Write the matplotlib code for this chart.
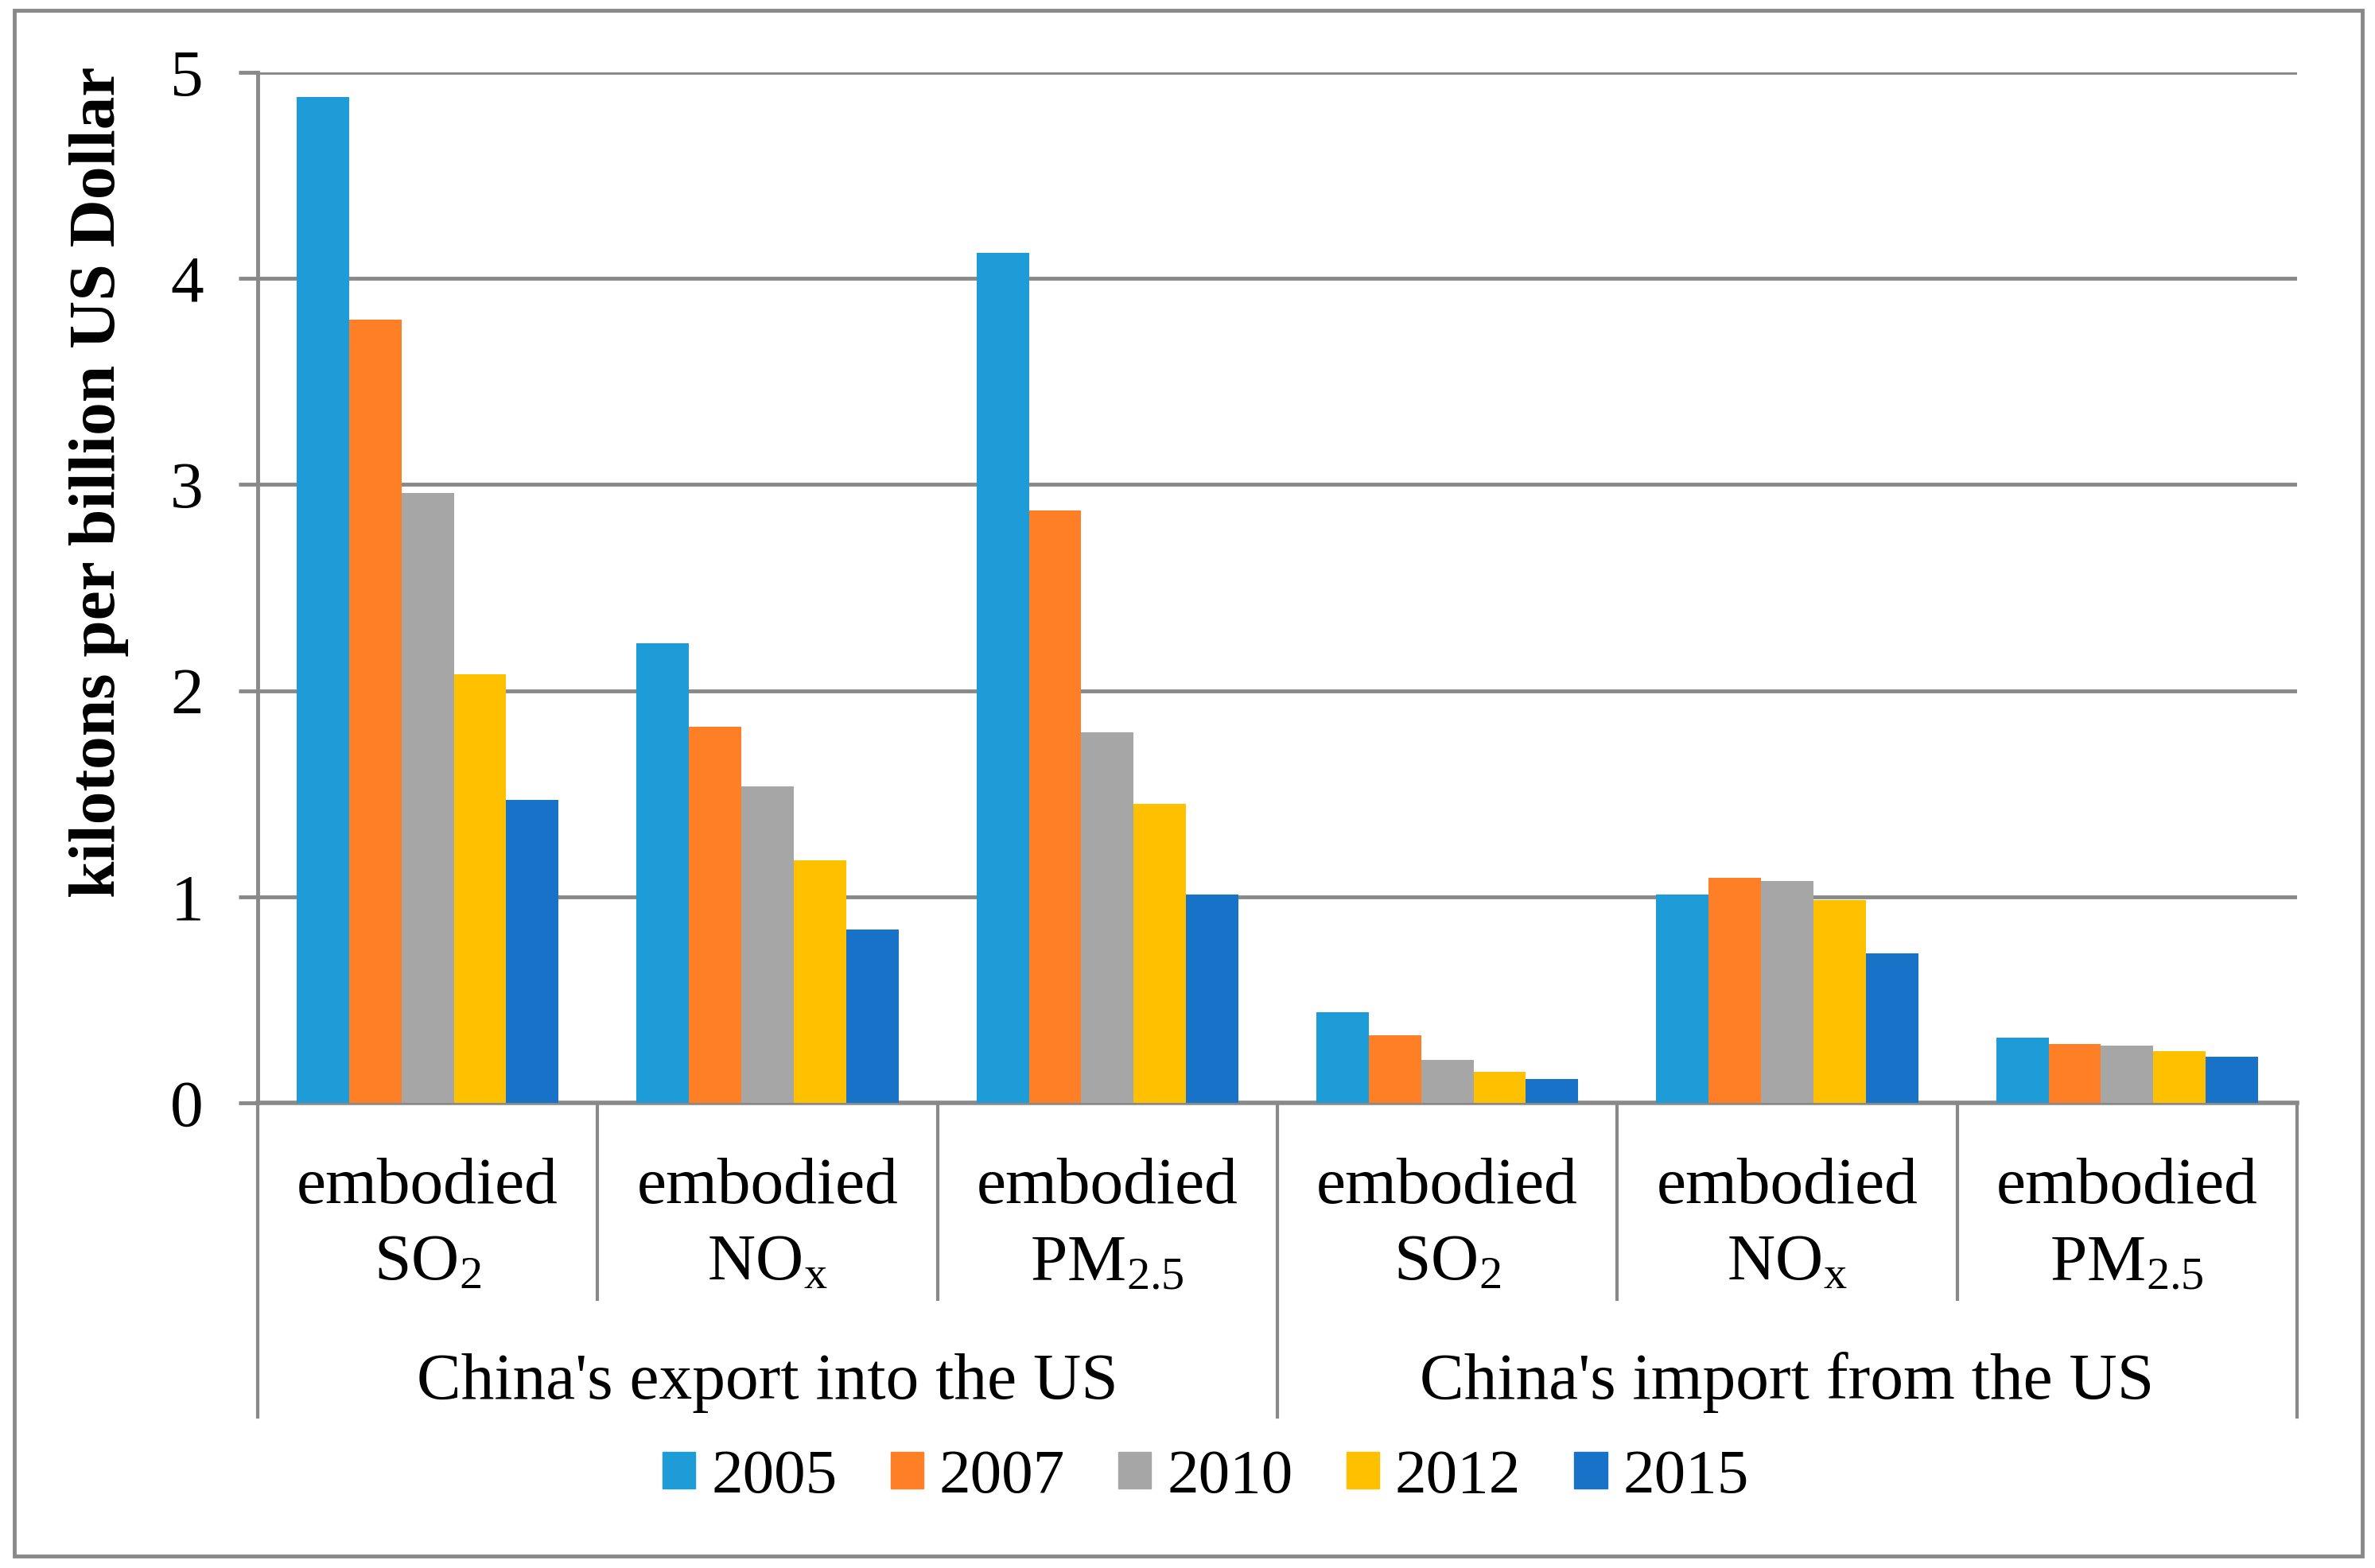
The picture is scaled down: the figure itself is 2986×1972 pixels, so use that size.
import matplotlib
matplotlib.use("Agg")
import matplotlib.pyplot as plt
import matplotlib.transforms as mtransforms
from matplotlib.patches import Patch, Rectangle
import numpy as np

plt.rcParams["font.family"] = ["Liberation Serif", "DejaVu Serif"]
plt.rcParams["mathtext.fontset"] = "custom"
plt.rcParams["mathtext.rm"] = "Liberation Serif"
plt.rcParams["mathtext.it"] = "Liberation Serif:italic"

# data
years = ["2005", "2007", "2010", "2012", "2015"]
pollutants = [r"SO$_\mathrm{2}$", r"NO$_\mathrm{x}$", r"PM$_\mathrm{2.5}$",
              r"SO$_\mathrm{2}$", r"NO$_\mathrm{x}$", r"PM$_\mathrm{2.5}$"]
groups = ["China's export into the US", "China's import from the US"]
v2005 = [4.88, 2.23, 4.125, 0.44, 1.01, 0.315]
v2007 = [3.80, 1.825, 2.875, 0.327, 1.09, 0.287]
v2010 = [2.96, 1.536, 1.796, 0.21, 1.075, 0.279]
v2012 = [2.08, 1.175, 1.45, 0.151, 0.982, 0.252]
v2015 = [1.47, 0.84, 1.01, 0.116, 0.726, 0.225]
series = [v2005, v2007, v2010, v2012, v2015]
colors = ["#1E9CD8", "#FF7F27", "#A6A6A6", "#FFC000", "#1872C8"]
gray = "#898989"

W, H = 2986, 1972
fig = plt.figure(figsize=(W / 100, H / 100), dpi=100)
fig.patches.append(Rectangle((18 / W, 1 - 1957 / H), (2970 - 18) / W, (1957 - 13) / H,
                             transform=fig.transFigure, fill=False, edgecolor=gray, lw=3.5))

left, right, top, bottom = 324, 2888, 91, 1387
ax = fig.add_axes([left / W, 1 - bottom / H, (right - left) / W, (bottom - top) / H])

x = np.arange(len(pollutants))
bw = 0.154
for i, vals in enumerate(series):
    ax.bar(x + (i - 2) * bw, vals, width=bw, color=colors[i], label=years[i], zorder=3)

ax.set_xlim(-0.5, 5.5)
ax.set_ylim(0, 5)
ax.set_yticks(range(6))
ax.tick_params(axis="y", labelsize=60, length=17, width=3.5, color=gray, pad=32)
ax.set_xticks([])
for s in ["top", "right"]:
    ax.spines[s].set_visible(False)
ax.spines["left"].set_color(gray)
ax.spines["left"].set_linewidth(3.5)
ax.spines["bottom"].set_color(gray)
ax.spines["bottom"].set_linewidth(4)
ax.yaxis.grid(True, color=gray, lw=3.5, zorder=0)

trans = mtransforms.blended_transform_factory(ax.transData, ax.transAxes)
for xs in [0.5, 1.5, 3.5, 4.5]:
    ax.plot([xs, xs], [0, -0.1906], color=gray, lw=3, transform=trans, clip_on=False)
for xs in [-0.5, 2.5, 5.5]:
    ax.plot([xs, xs], [0, -0.3048], color=gray, lw=3, transform=trans, clip_on=False)

for xi, lab in zip(x, pollutants):
    ax.text(xi, -0.0972, "embodied", transform=trans, ha="center", va="baseline", fontsize=60)
    ax.text(xi, -0.172, lab, transform=trans, ha="center", va="baseline", fontsize=60)
ax.text(1, -0.287, groups[0], transform=trans, ha="center", va="baseline", fontsize=60)
ax.text(4, -0.287, groups[1], transform=trans, ha="center", va="baseline", fontsize=60)

fig.text(125 / W, 1 - 606 / H, "kilotons per billion US Dollar", rotation=90,
         ha="center", va="center", fontsize=60, fontweight="bold")

handles = [Patch(color=c, label=y) for c, y in zip(colors, years)]
fig.legend(handles=handles, loc="center", bbox_to_anchor=(1516 / W, 1 - 1858 / H),
           ncol=5, frameon=False, fontsize=57, handlelength=0.52, handleheight=0.52,
           handletextpad=0.25, columnspacing=0.85, borderpad=0)

fig.savefig("out.png", dpi=100)
